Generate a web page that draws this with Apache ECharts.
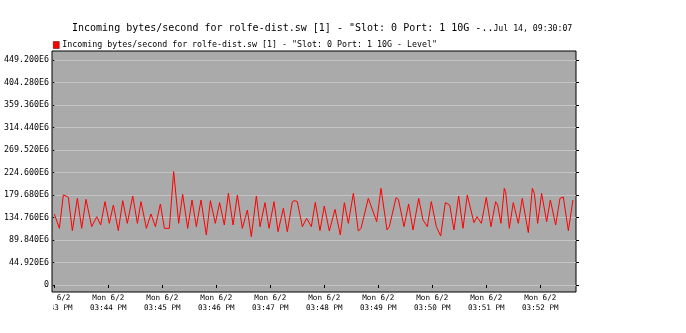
<!DOCTYPE html>
<html><head><meta charset="utf-8">
<script src="https://cdn.jsdelivr.net/npm/echarts@6/dist/echarts.min.js"></script>
<style>html,body{margin:0;padding:0;background:#fff}#c{width:686px;height:333px}</style>
</head><body><div id="c"></div>
<script>
// seconds after 15:43:00 (Mon 6/2)
const secs = [0,5.6,10.0,13.0,15.6,20.0,25.6,30.4,35.2,41.5,47.1,51.5,56.3,61.1,65.6,71.1,76.0,81.1,87.1,92.3,
96.3,102.3,107.4,112.3,117.8,122.3,127.8,132.6,138.2,142.6,148.2,153.0,157.8,163.0,168.9,173.4,178.9,183.7,188.9,
193.4,198.6,203.4,208.9,214.5,218.9,224.5,228.6,234.1,238.6,244.1,248.6,254.5,258.9,264.5,267.1,270.0,275.6,280.4,285.6,
290.0,295.2,300.0,305.6,311.9,317.8,322.3,326.7,332.3,337.8,340.8,348.9,351.1,358.2,363.0,369.7,372.3,379.7,382.3,
388.6,393.7,398.6,404.9,409.7,414.5,418.9,424.5,429.3,434.5,439.3,444.1,449.3,454.1,458.9,466.3,469.7,474.5,480.0,
485.2,490.4,492.6,496.3,500.0,501.5,505.6,510.0,515.6,520.0,526.7,531.2,533.4,537.1,541.5,547.1,551.2,557.1,561.9,565.6,567.4,571.2,576.3];
// Incoming bytes/second, in E6
const vals = [141.8,113.1,179.7,177.7,175.0,108.5,173.0,113.1,171.0,116.5,136.4,119.8,166.4,123.1,159.7,108.5,168.4,123.1,177.7,123.1,
166.4,113.1,141.8,116.5,161.7,113.1,113.1,226.3,123.1,181.0,113.1,169.7,116.5,169.7,99.8,168.4,123.1,164.4,119.8,
183.0,119.8,179.7,113.1,149.7,96.5,177.7,116.5,164.4,113.1,166.4,106.5,153.1,106.5,166.4,168.4,166.4,116.5,133.1,116.5,
165.0,108.5,157.7,107.8,151.1,99.8,164.4,123.1,183.0,107.8,113.1,173.0,169.7,126.5,193.0,109.8,116.5,174.4,171.0,
116.5,161.7,109.8,173.0,129.8,116.5,166.4,116.5,97.8,164.4,159.7,109.8,177.7,113.1,179.7,124.4,136.4,123.1,175.0,
116.5,166.4,159.7,123.1,193.0,186.3,113.1,164.4,123.1,173.0,104.5,193.0,183.0,123.1,183.0,126.5,169.7,119.8,173.0,175.7,177.7,108.5,169.7];

const yTicks = [0,44.92,89.84,134.76,179.68,224.6,269.52,314.44,359.36,404.28,449.2];
const yTickLabels = ['0','44.920E6','89.840E6','134.760E6','179.680E6','224.600E6','269.520E6','314.440E6','359.360E6','404.280E6','449.200E6'];
const xTicks = [0,60,120,180,240,300,360,420,480,540];
const xTickLabels = ['Mon 6/2\n03:43 PM','Mon 6/2\n03:44 PM','Mon 6/2\n03:45 PM','Mon 6/2\n03:46 PM','Mon 6/2\n03:47 PM',
  'Mon 6/2\n03:48 PM','Mon 6/2\n03:49 PM','Mon 6/2\n03:50 PM','Mon 6/2\n03:51 PM','Mon 6/2\n03:52 PM'];
const titleText = 'Incoming bytes/second for rolfe-dist.sw [1] - "Slot: 0 Port: 1 10G -..';
const stampText = 'Jul 14, 09:30:07';
const seriesName = 'Incoming bytes/second for rolfe-dist.sw [1] - "Slot: 0 Port: 1 10G - Level"';

const MONO = 'DejaVu Sans Mono';
function nearestLabel(v, ticks, labels){
  let bi = 0, bd = Infinity;
  ticks.forEach((t,i)=>{const d=Math.abs(t-v); if(d<bd){bd=d;bi=i;}});
  return labels[bi];
}
const chart = echarts.init(document.getElementById('c'), null, {renderer:'canvas'});
chart.setOption({
  animation:false,
  backgroundColor:'#ffffff',
  title:{
    left:72, top:21, padding:0,
    text:'{t|'+titleText+'}{d|'+stampText+'}',
    textStyle:{fontWeight:'normal',rich:{
      t:{fontFamily:MONO,fontSize:10,fontWeight:'normal',color:'#000',verticalAlign:'bottom',lineHeight:12},
      d:{fontFamily:MONO,fontSize:8.2,fontWeight:'normal',color:'#000',verticalAlign:'bottom',lineHeight:12}
    }}
  },
  legend:{
    left:53, top:41, padding:0, itemWidth:6, itemHeight:7, icon:'rect',
    data:[seriesName],
    textStyle:{fontFamily:MONO,fontSize:8.3,color:'#000',padding:[0,0,0,-2]},
    itemStyle:{borderColor:'#400000',borderWidth:0.5}
  },
  grid:{left:52,right:110,top:51,bottom:41,show:true,backgroundColor:'#aaaaaa',borderColor:'#000',borderWidth:1},
  xAxis:{
    type:'value', min:-2.6, max:579.7,
    axisLine:{show:false},
    axisTick:{show:true,length:3,customValues:xTicks,lineStyle:{color:'#000'}},
    axisLabel:{customValues:xTicks,margin:1,fontFamily:MONO,fontSize:7.6,lineHeight:10,color:'#000',
      formatter:(v)=>nearestLabel(v,xTicks,xTickLabels)},
    splitLine:{show:false}
  },
  yAxis:[{
    type:'value', min:-14, max:467.2,
    axisLine:{show:false},
    axisTick:{show:true,length:2,customValues:yTicks,lineStyle:{color:'#000'}},
    axisLabel:{customValues:yTicks,margin:3,fontFamily:MONO,fontSize:8.3,color:'#000',
      formatter:(v)=>nearestLabel(v,yTicks,yTickLabels)},
    splitLine:{show:true,lineStyle:{color:'#c4c4c4',width:1}}
  },{
    type:'value', min:-14, max:467.2, position:'right',
    axisLine:{show:false},
    axisTick:{show:true,length:3,customValues:yTicks,lineStyle:{color:'#000'}},
    axisLabel:{show:false}, splitLine:{show:false}
  }],
  series:[{
    name:seriesName, type:'line', showSymbol:false, symbol:'none',
    data: secs.map((s,i)=>[s,vals[i]]),
    itemStyle:{color:'#ff0000'},
    lineStyle:{color:'#ff0000',width:1},
    emphasis:{disabled:true}
  }],
  graphic:[{type:'rect',left:0,top:293,shape:{width:53,height:30},style:{fill:'#fff'},z:100}]
});
</script></body></html>
